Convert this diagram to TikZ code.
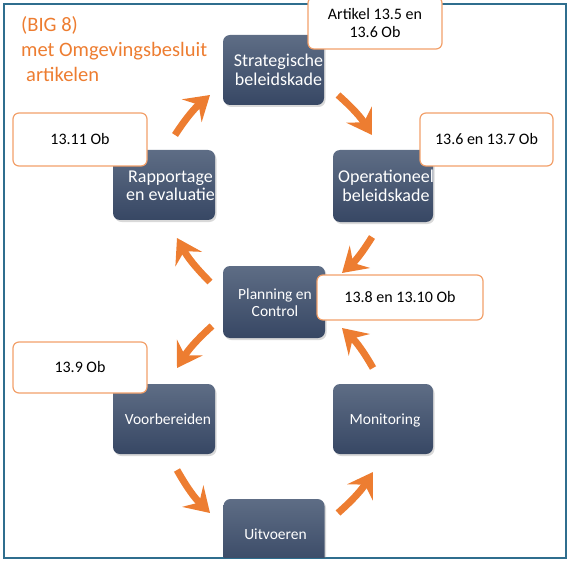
\documentclass[tikz,border=0pt]{standalone}
\usepackage{fontspec}
\setmainfont{Carlito}
\usetikzlibrary{arrows.meta,shadows}
\definecolor{orng}{HTML}{ED7D31}
\definecolor{orngline}{HTML}{F2A06A}
\definecolor{frm}{HTML}{2F6E8E}
\definecolor{btop}{HTML}{5E6D85}
\definecolor{bbot}{HTML}{374764}
\begin{document}
\begin{tikzpicture}[x=1pt,y=-1pt,
  box/.style={rounded corners=7pt, top color=btop, bottom color=bbot, draw=none,
    minimum width=101pt, minimum height=70pt, inner sep=0pt,
    drop shadow={opacity=0.3, shadow xshift=1.5pt, shadow yshift=-2pt}},
  bigtxt/.style={text=white, align=center, inner sep=0pt, font=\fontsize{18}{18.5}\selectfont},
  smalltxt/.style={text=white, align=center, inner sep=0pt, font=\fontsize{15.5}{17}\selectfont},
  callout/.style={rounded corners=6pt, draw=orngline, line width=1.2pt, fill=white,
    inner sep=0pt, align=center, text=black, font=\fontsize{16}{18}\selectfont},
  titletxt/.style={text=orng, inner sep=0pt, anchor=base west, font=\fontsize{20.5}{24}\selectfont},
  arr/.style={orng, line width=7pt, -{Stealth[length=24pt,width=30pt,inset=9pt]}}]
\useasboundingbox (0,0) rectangle (572,561);
% frame
\draw[frm, line width=2pt] (4,4) rectangle (566,558);
% title
\node[titletxt] (t1) at (21,32) {(BIG 8)};
\node[titletxt] (t2) at (21,57) {met Omgevingsbesluit};
\node[titletxt] (t3) at (26,82) {artikelen};
% boxes
\node[box, minimum width=101pt] (strat) at (273.5,70) {};
\node[box, minimum width=102pt] (rapp) at (164,185) {};
\node[box, minimum width=100pt, minimum height=72pt] (oper) at (383,186) {};
\node[box, minimum width=102pt, minimum height=72pt] (plan) at (274,302) {};
\node[box, minimum width=102pt] (voor) at (164,419) {};
\node[box, minimum width=100pt] (moni) at (383,419) {};
\begin{scope}
\clip (0,0) rectangle (572,557);
\node[box, minimum width=101pt] (uitv) at (274,534) {};
\end{scope}
% box texts
\node[bigtxt] (strat-t) at (278.5,69.8) {Strategische\\beleidskade};
\node[bigtxt] (rapp-t) at (170.5,185.8) {Rapportage\\en evaluatie};
\begin{scope}
\clip[rounded corners=7pt] (oper.north west) rectangle (oper.south east);
\node[bigtxt] (oper-t) at (386,186) {Operationeel\\beleidskade};
\end{scope}
\node[smalltxt] (plan-t) at (275,303) {Planning en\\Control};
\node[smalltxt, anchor=base] (voor-t) at (168,424) {Voorbereiden};
\node[smalltxt, anchor=base] (moni-t) at (385,424) {Monitoring};
\node[smalltxt, anchor=base] (uitv-t) at (275.5,539.5) {Uitvoeren};
% arrow end points
\coordinate (a1s) at (175,135); \coordinate (a1e) at (210,95);
\coordinate (a2s) at (338,95);  \coordinate (a2e) at (372,135);
\coordinate (a3s) at (372,237); \coordinate (a3e) at (342,273);
\coordinate (a4s) at (210,282); \coordinate (a4e) at (177,238);
\coordinate (a5s) at (212,326); \coordinate (a5e) at (177,368);
\coordinate (a6s) at (177,470); \coordinate (a6e) at (210,513);
\coordinate (a7s) at (338,513); \coordinate (a7e) at (373,472);
\coordinate (a8s) at (373,368); \coordinate (a8e) at (342,328);
\draw[arr] (a1s) to[bend left=8] (a1e);
\draw[arr] (a2s) to[bend left=8] (a2e);
\draw[arr] (a3s) to[bend left=8] (a3e);
\draw[arr] (a4s) to[bend left=8] (a4e);
\draw[arr] (a5s) to[bend right=8] (a5e);
\draw[arr] (a6s) to[bend right=8] (a6e);
\draw[arr] (a7s) to[bend right=8] (a7e);
\draw[arr] (a8s) to[bend right=8] (a8e);
% callouts
\node[callout, minimum width=134pt, minimum height=52pt] (c1) at (375,23) {Artikel 13.5 en\\13.6 Ob};
\node[callout, minimum width=133pt, minimum height=53pt] (c2) at (486.5,139.5) {13.6 en 13.7 Ob};
\node[callout, minimum width=134pt, minimum height=53pt] (c3) at (80,139.5) {13.11 Ob};
\node[callout, minimum width=166pt, minimum height=45pt] (c4) at (400,297.5) {13.8 en 13.10 Ob};
\node[callout, minimum width=134pt, minimum height=51pt] (c5) at (80,367.5) {13.9 Ob};
\end{tikzpicture}
\end{document}
